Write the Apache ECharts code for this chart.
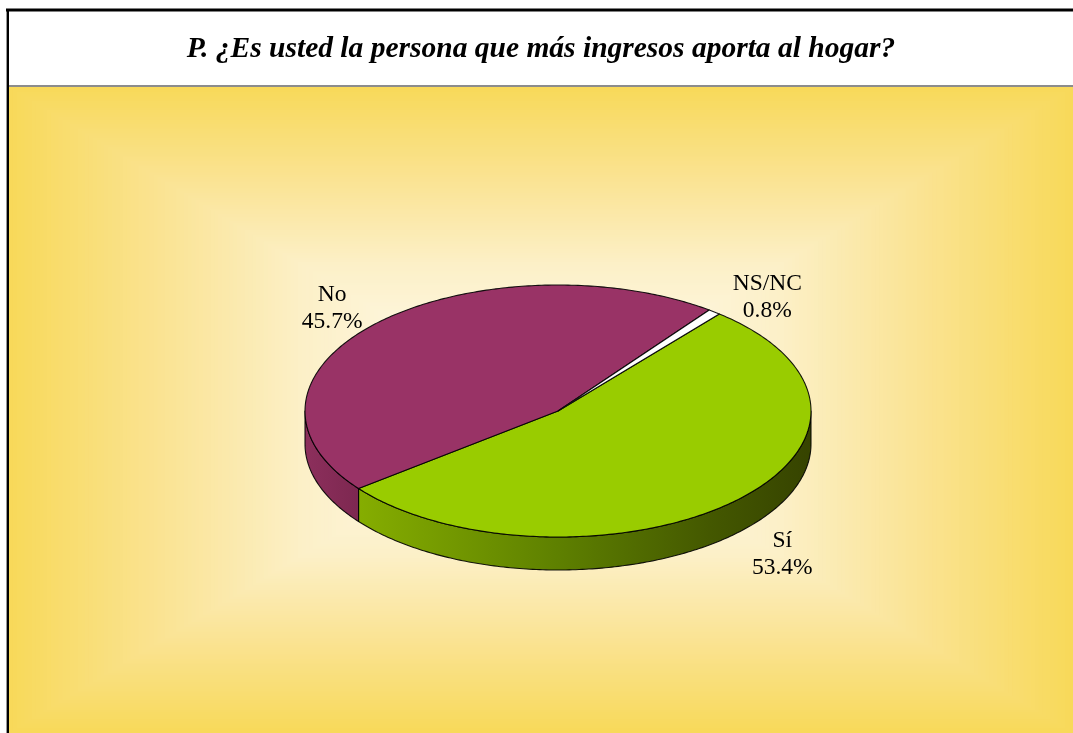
<!DOCTYPE html>
<html>
<head>
<meta charset="utf-8">
<script src="https://cdn.jsdelivr.net/npm/echarts@6/dist/echarts.min.js"></script>
<style>
  html, body { margin: 0; padding: 0; background: #ffffff; }
  #chart { width: 1073px; height: 733px; }
</style>
</head>
<body>
<div id="chart"></div>
<script>
// Survey question and answers
const titleText = 'P. ¿Es usted la persona que más ingresos aporta al hogar?';
const categories = ['Sí', 'No', 'NS/NC'];
const values = [53.4, 45.7, 0.8];

// Slice styling
const topColors = ['#99CC00', '#993366', '#FFFFFF'];
const sideStops = [
  [[0, '#8EB700'], [0.1, '#86AE00'], [0.5, '#5E8000'], [0.8, '#445800'], [1, '#364300']],
  [[0, '#8C2F5C'], [0.1, '#7E2851'], [1, '#6E2046']],
  [[0, '#E6E6E6'], [1, '#BBBBBB']]
];
// Label offsets from the slice's mid-point on the rim (px)
const labelOffsets = [[48, 53], [-45, -15], [53, -15]];

// Tilted pie geometry
const pie = { cx: 558, cy: 411, rx: 253, ry: 126, depth: 33, startAngle: -50.4 };
const total = values.reduce((a, b) => a + b, 0);

function rad(d) { return d * Math.PI / 180; }
function rim(a, dy) {
  return [pie.cx + pie.rx * Math.cos(rad(a)), pie.cy + pie.ry * Math.sin(rad(a)) + (dy || 0)];
}
function sliceRange(idx, v) {
  let before = 0;
  for (let i = 0; i < idx; i++) before += values[i];
  const a0 = pie.startAngle + 360 * before / total;
  return [a0, a0 + 360 * v / total];
}
function arc(a0, a1, dy) {
  const pts = [];
  const n = Math.max(2, Math.ceil(Math.abs(a1 - a0) / 0.75));
  for (let i = 0; i <= n; i++) pts.push(rim(a0 + (a1 - a0) * i / n, dy));
  return pts;
}

// Background: rectangular "from centre" fill, gold edges to cream centre
const bgBox = { x0: 9, y0: 87, x1: 1073, y1: 733 };
const bgStops = [[0, [248, 217, 90]], [0.28, [250, 227, 146]], [0.55, [252, 240, 200]], [0.8, [254, 247, 226]], [1, [255, 251, 239]]];
function bgColor(t) {
  for (let i = 1; i < bgStops.length; i++) {
    if (t <= bgStops[i][0]) {
      const p = (t - bgStops[i - 1][0]) / (bgStops[i][0] - bgStops[i - 1][0]);
      const c = bgStops[i - 1][1].map((v, k) => Math.round(v + (bgStops[i][1][k] - v) * p));
      return 'rgb(' + c.join(',') + ')';
    }
  }
  return 'rgb(' + bgStops[bgStops.length - 1][1].join(',') + ')';
}
const bgRects = [];
(function () {
  const cx = (bgBox.x0 + bgBox.x1) / 2, cy = (bgBox.y0 + bgBox.y1) / 2;
  const hw = (bgBox.x1 - bgBox.x0) / 2, hh = (bgBox.y1 - bgBox.y0) / 2;
  const N = 140;
  for (let i = 0; i < N; i++) {
    const t = i / N, s = 1 - t;
    bgRects.push({
      type: 'rect', silent: true, z: -20 + i * 0.01,
      shape: { x: cx - hw * s, y: cy - hh * s, width: 2 * hw * s, height: 2 * hh * s },
      style: { fill: bgColor(t) }
    });
  }
})();

const seriesData = categories.map((c, i) => ({ name: c, value: values[i] }));

const chart = echarts.init(document.getElementById('chart'), null, { renderer: 'canvas' });
chart.setOption({
  animation: false,
  backgroundColor: '#ffffff',
  graphic: {
    elements: [
      ...bgRects,
      // title box
      { type: 'rect', z: -5, shape: { x: 8, y: 10, width: 1080, height: 76 }, style: { fill: '#ffffff' } },
      { type: 'line', z: 5, shape: { x1: 8, y1: 86, x2: 1080, y2: 86 }, style: { stroke: '#666666', lineWidth: 1.4 } },
      { type: 'line', z: 5, shape: { x1: 6, y1: 10, x2: 1080, y2: 10 }, style: { stroke: '#000000', lineWidth: 3 } },
      { type: 'line', z: 5, shape: { x1: 7.8, y1: 9, x2: 7.8, y2: 740 }, style: { stroke: '#000000', lineWidth: 2.4 } },
      {
        type: 'text', z: 6, x: 541, y: 49,
        style: {
          text: titleText, fill: '#000000',
          font: 'italic bold 29.5px "Liberation Serif", "Times New Roman", serif',
          align: 'center', verticalAlign: 'middle'
        }
      }
    ]
  },
  series: [
    {
      // visible outer wall of each slice
      type: 'custom', coordinateSystem: 'none', z: 3, silent: true,
      data: seriesData,
      renderItem: function (params, api) {
        const idx = params.dataIndex;
        const [a0, a1] = sliceRange(idx, api.value(0));
        const children = [];
        [[0, 180], [360, 540], [-360, -180]].forEach(function (w) {
          const s = Math.max(a0, w[0]), e = Math.min(a1, w[1]);
          if (e - s > 0.01) {
            const pts = arc(s, e, 0).concat(arc(e, s, pie.depth));
            children.push({
              type: 'polygon',
              shape: { points: pts },
              style: {
                fill: {
                  type: 'linear', global: true,
                  x: pie.cx - pie.rx, y: 0, x2: pie.cx + pie.rx, y2: 0,
                  colorStops: sideStops[idx].map(s => ({ offset: s[0], color: s[1] }))
                },
                stroke: 'rgba(0,0,0,0.9)', lineWidth: 1.1, lineJoin: 'round'
              }
            });
          }
        });
        return { type: 'group', children: children };
      }
    },
    {
      // top faces and labels
      type: 'custom', coordinateSystem: 'none', z: 4, silent: true,
      data: seriesData,
      renderItem: function (params, api) {
        const idx = params.dataIndex;
        const v = api.value(0);
        const [a0, a1] = sliceRange(idx, v);
        const pts = [[pie.cx, pie.cy]].concat(arc(a0, a1, 0));
        const mid = (a0 + a1) / 2;
        const p = rim(mid, 0);
        return {
          type: 'group',
          children: [
            {
              type: 'polygon',
              shape: { points: pts },
              style: { fill: topColors[idx], stroke: 'rgba(0,0,0,0.9)', lineWidth: 1.1, lineJoin: 'round' }
            },
            {
              type: 'text', z2: 10,
              x: p[0] + labelOffsets[idx][0], y: p[1] + labelOffsets[idx][1],
              style: {
                text: categories[idx] + '\n' + v.toFixed(1) + '%',
                fill: '#000000',
                font: '23.5px "Liberation Serif", "Times New Roman", serif',
                lineHeight: 27,
                align: 'center', verticalAlign: 'middle'
              }
            }
          ]
        };
      }
    }
  ]
});
</script>
</body>
</html>
